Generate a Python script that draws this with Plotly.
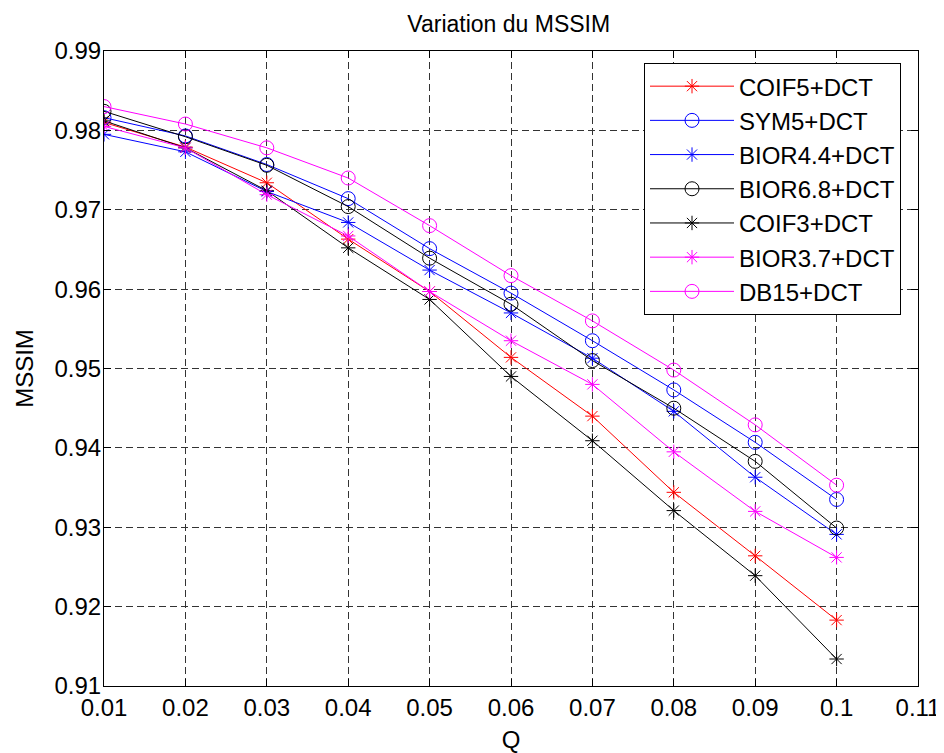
import plotly.graph_objects as go

q = [0.01, 0.02, 0.03, 0.04, 0.05, 0.06, 0.07, 0.08, 0.09, 0.1]

coif5 = [0.9810, 0.9779, 0.9734, 0.9663, 0.9597, 0.9514, 0.9440, 0.9344, 0.9264, 0.9183]
sym5 = [0.9816, 0.9793, 0.9757, 0.9714, 0.9651, 0.9595, 0.9535, 0.9473, 0.9407, 0.9335]
bior44 = [0.9795, 0.9773, 0.9723, 0.9684, 0.9624, 0.9570, 0.9513, 0.9446, 0.9363, 0.9291]
bior68 = [0.9824, 0.9792, 0.9756, 0.9704, 0.9639, 0.9581, 0.9510, 0.9450, 0.9383, 0.9299]
coif3 = [0.9812, 0.9778, 0.9724, 0.9652, 0.9587, 0.9490, 0.9409, 0.9321, 0.9239, 0.9134]
bior37 = [0.9805, 0.9778, 0.9719, 0.9667, 0.9597, 0.9535, 0.9480, 0.9395, 0.9320, 0.9262]
db15 = [0.9830, 0.9808, 0.9778, 0.9740, 0.9680, 0.9617, 0.9560, 0.9498, 0.9429, 0.9353]

names = ["COIF5+DCT", "SYM5+DCT", "BIOR4.4+DCT", "BIOR6.8+DCT", "COIF3+DCT", "BIOR3.7+DCT", "DB15+DCT"]
series = [coif5, sym5, bior44, bior68, coif3, bior37, db15]
colors = ["#FF0000", "#0000FF", "#0000FF", "#000000", "#000000", "#FF00FF", "#FF00FF"]
symbols = ["asterisk-open", "circle-open", "asterisk-open", "circle-open", "asterisk-open", "asterisk-open", "circle-open"]

x_ticks = [0.01, 0.02, 0.03, 0.04, 0.05, 0.06, 0.07, 0.08, 0.09, 0.1, 0.11]
x_labels = ["0.01", "0.02", "0.03", "0.04", "0.05", "0.06", "0.07", "0.08", "0.09", "0.1", "0.11"]
y_ticks = [0.91, 0.92, 0.93, 0.94, 0.95, 0.96, 0.97, 0.98, 0.99]
y_labels = ["0.91", "0.92", "0.93", "0.94", "0.95", "0.96", "0.97", "0.98", "0.99"]

fig = go.Figure()
for name, ys, c, s in zip(names, series, colors, symbols):
    fig.add_trace(go.Scatter(
        x=q, y=ys, name=name, mode="lines+markers",
        line=dict(color=c, width=1),
        marker=dict(symbol=s, color=c, size=14 if s == "circle-open" else 12,
                    line=dict(color=c, width=1)),
    ))

font = "Liberation Sans, Arial, sans-serif"
axis_common = dict(
    showline=True, linecolor="black", linewidth=1, mirror="ticks",
    ticks="inside", ticklen=7, tickcolor="black",
    showgrid=True, gridcolor="#333333", gridwidth=1, griddash="7px,4px",
    zeroline=False, automargin=False,
    tickfont=dict(family=font, size=24, color="black"),
)

# The page body has an 8px margin, so the figure is 8px smaller and shifted.
fig.update_layout(
    width=936, height=745,
    paper_bgcolor="white", plot_bgcolor="white",
    margin=dict(l=96, r=26, t=43, b=67),
    title=dict(text="Variation du MSSIM", x=0.535, xanchor="center", y=0.9785, yanchor="middle",
               font=dict(family=font, size=23, color="black")),
    xaxis=dict(range=[0.01, 0.11], tickvals=x_ticks, ticktext=x_labels,
               title=dict(text="Q", font=dict(family=font, size=24, color="black"), standoff=12),
               **axis_common),
    yaxis=dict(range=[0.91, 0.99], tickvals=y_ticks, ticktext=y_labels,
               title=dict(text="MSSIM", font=dict(family=font, size=24, color="black"), standoff=14),
               ticklabelstandoff=-3,
               **axis_common),
    legend=dict(x=0.6634, y=0.981, xanchor="left", yanchor="top",
                bgcolor="white", bordercolor="black", borderwidth=1,
                font=dict(family=font, size=24, color="black"),
                itemwidth=84, tracegroupgap=0),
    showlegend=True,
)

fig.write_html("out.html")
